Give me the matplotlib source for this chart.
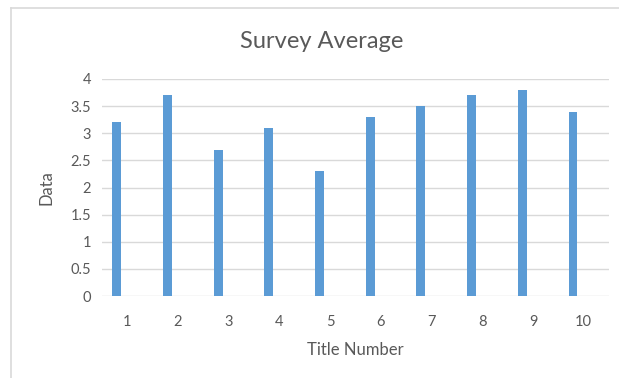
import matplotlib
matplotlib.use("Agg")
import matplotlib.pyplot as plt
from matplotlib.lines import Line2D
import numpy as np

titles = [1, 2, 3, 4, 5, 6, 7, 8, 9, 10]
averages = [3.2, 3.7, 2.7, 3.1, 2.3, 3.3, 3.5, 3.7, 3.8, 3.4]
y_ticks = [0, 0.5, 1, 1.5, 2, 2.5, 3, 3.5, 4]
y_tick_labels = ["0", "0.5", "1", "1.5", "2", "2.5", "3", "3.5", "4"]

plt.rcParams['font.family'] = ['Lato', 'DejaVu Sans']
text_color = "#595959"
grid_color = "#d9d9d9"
bar_color = "#5b9bd5"

W, H = 619, 378
fig = plt.figure(figsize=(W / 100, H / 100), dpi=100)
fig.patch.set_facecolor("white")

# chart frame (top and left edges)
fig.add_artist(Line2D([11 / W, 1.0], [1 - 8 / H, 1 - 8 / H], color="#d9d9d9", lw=1.2))
fig.add_artist(Line2D([11 / W, 11 / W], [0, 1 - 8 / H], color="#d9d9d9", lw=1.2))

left, right = 102 / W, 609 / W
bottom, top = 1 - 296 / H, 1 - 79 / H
ax = fig.add_axes([left, bottom, right - left, top - bottom])

x = np.arange(len(titles)) + 1
ax.bar(x - 0.21, averages, width=0.175, color=bar_color, zorder=3)

ax.set_xlim(0.5, len(titles) + 0.5)
ax.set_ylim(0, 4)
ax.set_yticks(y_ticks)
ax.set_yticklabels(y_tick_labels)
ax.set_xticks(x)
ax.set_xticklabels([str(t) for t in titles])
ax.tick_params(axis="both", length=0, labelsize=10.5, colors=text_color)
ax.tick_params(axis="x", pad=14)
ax.tick_params(axis="y", pad=8)
ax.yaxis.grid(True, color=grid_color, lw=1, zorder=0)
for s in ax.spines.values():
    s.set_visible(False)

ax.set_xlabel("Title Number", fontsize=12, color=text_color, labelpad=9)
ax.set_ylabel("Data", fontsize=12, color=text_color, labelpad=11)
fig.text((238 + 405) / 2 / W, 1 - 42 / H, "Survey Average", fontsize=17,
         color=text_color, ha="center", va="center")

fig.savefig("out.png", dpi=100)
